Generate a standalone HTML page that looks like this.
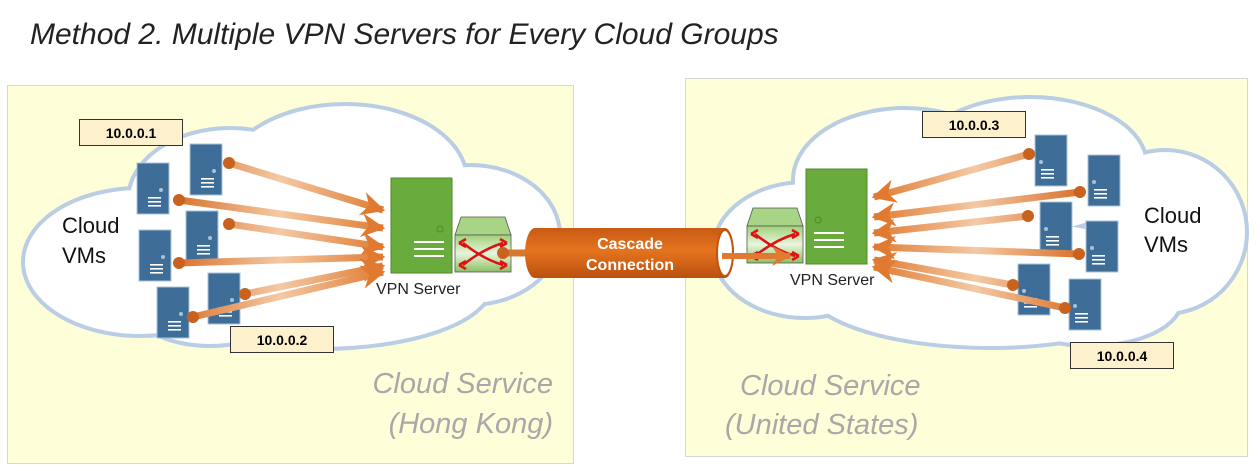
<!DOCTYPE html>
<html><head><meta charset="utf-8"><style>
body{margin:0;background:#fff}
svg{display:block}
text{font-family:"Liberation Sans",sans-serif}
</style></head><body>
<svg width="1260" height="471" viewBox="0 0 1260 471" xmlns="http://www.w3.org/2000/svg">
<defs>
<linearGradient id="al" gradientUnits="userSpaceOnUse" x1="175" y1="0" x2="385" y2="0">
<stop offset="0" stop-color="#d9712a"/><stop offset="0.5" stop-color="#f4c9a4"/><stop offset="1" stop-color="#e07a30"/></linearGradient>
<linearGradient id="ar" gradientUnits="userSpaceOnUse" x1="1080" y1="0" x2="872" y2="0">
<stop offset="0" stop-color="#d9712a"/><stop offset="0.5" stop-color="#f4c9a4"/><stop offset="1" stop-color="#e07a30"/></linearGradient>
<linearGradient id="tube" x1="0" y1="0" x2="0" y2="1">
<stop offset="0" stop-color="#c85a14"/><stop offset="0.45" stop-color="#e5741f"/><stop offset="1" stop-color="#b9500f"/></linearGradient>
<linearGradient id="sw" x1="0" y1="0" x2="0" y2="1">
<stop offset="0" stop-color="#9fd07a"/><stop offset="0.5" stop-color="#e8f5dc"/><stop offset="1" stop-color="#8cc063"/></linearGradient>
<marker id="ah" viewBox="0 0 10 10" refX="9" refY="5" markerUnits="userSpaceOnUse" markerWidth="24" markerHeight="24" orient="auto"><path d="M0,0 L10,5 L0,10 L3,5z" fill="#e07a30"/></marker>
<marker id="ah2" viewBox="0 0 10 10" refX="9" refY="5" markerUnits="userSpaceOnUse" markerWidth="20" markerHeight="20" orient="auto"><path d="M0,0 L10,5 L0,10 L3,5z" fill="#e07a30"/></marker>
<g id="srv"><rect width="32" height="51" fill="#3e6e98" stroke="#a9c1d8" stroke-width="1"/><circle cx="24" cy="27" r="2" fill="#a9c1d8"/><rect x="11" y="34" width="13" height="1.6" fill="#fff"/><rect x="11" y="38" width="13" height="1.6" fill="#fff"/><rect x="11" y="42" width="13" height="1.6" fill="#fff"/></g>
<g id="srvr"><rect width="32" height="51" fill="#3e6e98" stroke="#a9c1d8" stroke-width="1"/><circle cx="6" cy="27" r="2" fill="#a9c1d8"/><rect x="6" y="34" width="13" height="1.6" fill="#fff"/><rect x="6" y="38" width="13" height="1.6" fill="#fff"/><rect x="6" y="42" width="13" height="1.6" fill="#fff"/></g>
<g id="switch"><path d="M6,0 L50,0 L56,18 L0,18z" fill="#a8d486" stroke="#555" stroke-width="0.8"/><rect x="0" y="18" width="56" height="37" fill="url(#sw)" stroke="#555" stroke-width="0.8"/>
<path d="M8,26 Q28,42 48,48 M8,48 Q28,32 48,26" stroke="#e01010" stroke-width="2.5" fill="none"/>
<path d="M4,26 l7,-4 M4,26 l7,4 M52,26 l-7,-4 M52,26 l-7,4 M4,48 l7,-4 M4,48 l7,4 M52,48 l-7,-4 M52,48 l-7,4" stroke="#e01010" stroke-width="2.5"/></g>
</defs>
<text x="30" y="44" font-size="30" font-style="italic" fill="#222">Method 2. Multiple VPN Servers for Every Cloud Groups</text>
<rect x="7.5" y="85.5" width="566" height="378" fill="#fefed9" stroke="#d8d8d0"/>
<rect x="685.5" y="78.5" width="562" height="378" fill="#fefed9" stroke="#d8d8d0"/>
<g id="lc">
<ellipse cx="140" cy="262" rx="115" ry="72"/><ellipse cx="230" cy="200" rx="100" ry="70"/><ellipse cx="345" cy="180" rx="120" ry="74"/><ellipse cx="470" cy="235" rx="88" ry="68"/><ellipse cx="320" cy="285" rx="170" ry="62"/><ellipse cx="210" cy="300" rx="80" ry="44"/></g>
<g id="rc">
<ellipse cx="805" cy="250" rx="90" ry="66"/><ellipse cx="905" cy="180" rx="110" ry="70"/><ellipse cx="1030" cy="165" rx="115" ry="66"/><ellipse cx="1165" cy="232" rx="80" ry="80"/><ellipse cx="990" cy="283" rx="185" ry="63"/><ellipse cx="1090" cy="300" rx="90" ry="44"/></g>
<use href="#lc" fill="#b9cde4" stroke="#b9cde4" stroke-width="8"/>
<use href="#rc" fill="#b9cde4" stroke="#b9cde4" stroke-width="8"/>
<use href="#lc" fill="#fff"/>
<use href="#rc" fill="#fff"/>
<use href="#srv" x="190" y="144"/><use href="#srv" x="137" y="163"/><use href="#srv" x="186" y="211"/><use href="#srv" x="139" y="230"/><use href="#srv" x="208" y="273"/><use href="#srv" x="157" y="287"/>
<g stroke="url(#al)" stroke-width="7" fill="none" marker-end="url(#ah)">
<line x1="229" y1="163" x2="383" y2="210"/><line x1="179" y1="200" x2="383" y2="228"/><line x1="229" y1="224" x2="383" y2="247"/><line x1="179" y1="263" x2="383" y2="257"/><line x1="245" y1="294" x2="383" y2="266"/><line x1="193" y1="317" x2="383" y2="272"/></g>
<g fill="#c8621e"><circle cx="229" cy="163" r="6"/><circle cx="179" cy="200" r="6"/><circle cx="229" cy="224" r="6"/><circle cx="179" cy="263" r="6"/><circle cx="245" cy="294" r="6"/><circle cx="193" cy="317" r="6"/></g>
<rect x="79.5" y="119.5" width="103" height="26" fill="#fdf0cc" stroke="#333"/>
<text x="131" y="138" font-size="14" font-weight="bold" text-anchor="middle">10.0.0.1</text>
<rect x="230.5" y="326.5" width="103" height="26" fill="#fdf0cc" stroke="#333"/>
<text x="282" y="345" font-size="14" font-weight="bold" text-anchor="middle">10.0.0.2</text>
<text x="62" y="233" font-size="22" fill="#111">Cloud</text><text x="62" y="263" font-size="22" fill="#111">VMs</text>
<rect x="391" y="178" width="61" height="95" fill="#6aab3e" stroke="#4f8a2a"/>
<circle cx="440" cy="229" r="3" fill="none" stroke="#4f8a2a"/>
<rect x="414" y="241" width="30" height="2" fill="#fff"/><rect x="414" y="248" width="30" height="2" fill="#fff"/><rect x="414" y="255" width="30" height="2" fill="#fff"/>
<use href="#switch" x="455" y="217"/>
<text x="376" y="294" font-size="16" fill="#222">VPN Server</text>
<line x1="503" y1="253" x2="530" y2="253" stroke="#d7782f" stroke-width="7"/>
<circle cx="503" cy="253" r="6" fill="#c8621e"/>
<path d="M535,228 L725,228 A9,25 0 0 1 725,278 L535,278 A10,25 0 0 1 535,228z" fill="url(#tube)"/>
<ellipse cx="725" cy="253" rx="8" ry="23" fill="#fff" stroke="#c05510" stroke-width="2"/>
<text x="630" y="249" font-size="16" font-weight="bold" fill="#fff" text-anchor="middle">Cascade</text>
<text x="630" y="270" font-size="16" font-weight="bold" fill="#fff" text-anchor="middle">Connection</text>
<use href="#switch" x="747" y="208"/>
<line x1="722" y1="256" x2="790" y2="256" stroke="#e07a30" stroke-width="6" marker-end="url(#ah2)"/>
<rect x="806" y="169" width="61" height="95" fill="#6aab3e" stroke="#4f8a2a"/>
<circle cx="818" cy="220" r="3" fill="none" stroke="#4f8a2a"/>
<rect x="814" y="232" width="30" height="2" fill="#fff"/><rect x="814" y="239" width="30" height="2" fill="#fff"/><rect x="814" y="246" width="30" height="2" fill="#fff"/>
<text x="790" y="285" font-size="16" fill="#222">VPN Server</text>
<use href="#srvr" x="1035" y="135"/><use href="#srvr" x="1088" y="155"/><use href="#srvr" x="1040" y="202"/><use href="#srvr" x="1086" y="221"/><use href="#srvr" x="1018" y="264"/><use href="#srvr" x="1069" y="279"/>
<g stroke="url(#ar)" stroke-width="7" fill="none" marker-end="url(#ah)">
<line x1="1029" y1="154" x2="874" y2="197"/><line x1="1080" y1="192" x2="874" y2="217"/><line x1="1028" y1="216" x2="874" y2="233"/><line x1="1079" y1="254" x2="874" y2="247"/><line x1="1013" y1="285" x2="874" y2="260"/><line x1="1065" y1="308" x2="874" y2="267"/></g>
<g fill="#c8621e"><circle cx="1029" cy="154" r="6"/><circle cx="1080" cy="192" r="6"/><circle cx="1028" cy="216" r="6"/><circle cx="1079" cy="254" r="6"/><circle cx="1013" cy="285" r="6"/><circle cx="1065" cy="308" r="6"/></g>
<rect x="922.5" y="111.5" width="103" height="26" fill="#fdf0cc" stroke="#333"/>
<text x="974" y="130" font-size="14" font-weight="bold" text-anchor="middle">10.0.0.3</text>
<rect x="1070.5" y="342.5" width="103" height="26" fill="#fdf0cc" stroke="#333"/>
<text x="1122" y="361" font-size="14" font-weight="bold" text-anchor="middle">10.0.0.4</text>
<text x="1144" y="223" font-size="22" fill="#111">Cloud</text><text x="1144" y="252" font-size="22" fill="#111">VMs</text>
<g font-size="29" font-style="italic" fill="#a8a8a8">
<text x="553" y="393" text-anchor="end">Cloud Service</text><text x="553" y="433" text-anchor="end">(Hong Kong)</text>
<text x="740" y="395">Cloud Service</text><text x="725" y="434">(United States)</text></g>
</svg>
</body></html>
